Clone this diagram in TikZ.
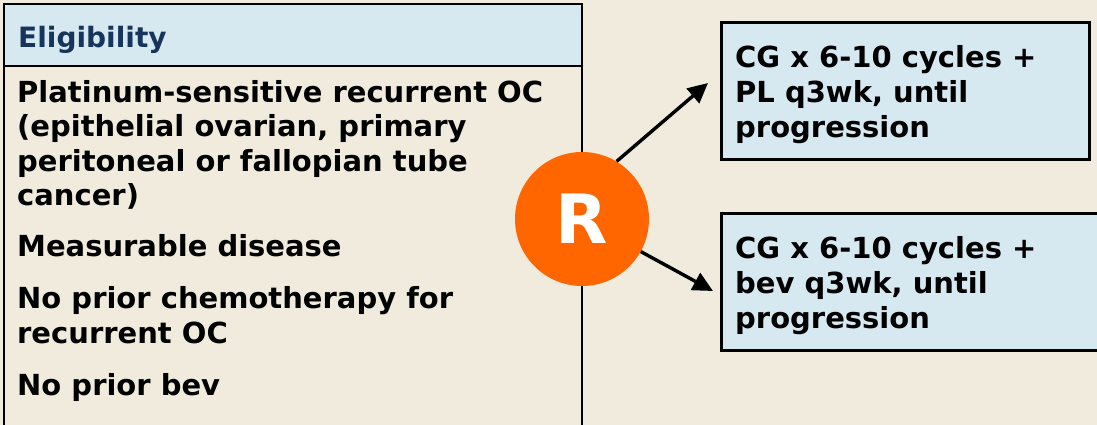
\documentclass[tikz,border=0pt]{standalone}
\usepackage{fontspec}
\setmainfont{DejaVu Sans}
\usetikzlibrary{arrows.meta}
\definecolor{cream}{RGB}{240,235,220}
\definecolor{paleblue}{RGB}{214,232,240}
\definecolor{navy}{RGB}{22,52,92}
\definecolor{rorange}{RGB}{255,102,0}
\tikzset{
  armbox/.style={draw=black, line width=3.2pt, fill=paleblue, anchor=west,
    minimum height=137pt, inner sep=0pt},
  armtext/.style={anchor=west, inner sep=0pt, align=left,
    font=\fontsize{29}{35}\selectfont\bfseries},
  arm/.style={line width=3.4pt, -{Triangle[length=20pt,width=19pt]}}
}
\begin{document}
\begin{tikzpicture}[x=1pt, y=-1pt, line join=miter]
  \useasboundingbox (0,0) rectangle (1097,425);
  \begin{scope}
    \clip (0,0) rectangle (1097,425);
    \fill[cream] (0,0) rectangle (1097,425);
    % eligibility panel
    \fill[paleblue] (4,4) rectangle (582,66);
    \draw[line width=2.6pt] (4,440) -- (4,4) -- (582,4) -- (582,440);
    \draw[line width=2.6pt] (4,66) -- (582,66);
    \node[anchor=west, text=navy, font=\fontsize{28}{30}\selectfont\bfseries,
      inner sep=0pt] (elig) at (18,40) {Eligibility};
    \node[anchor=north west, inner sep=0pt, align=left,
      font=\fontsize{29}{34.5}\selectfont\bfseries] (crit) at (17,80)
      {Platinum-sensitive recurrent OC\\
       (epithelial ovarian, primary\\
       peritoneal or fallopian tube\\
       cancer)\\[16pt]
       Measurable disease\\[18pt]
       No prior chemotherapy for\\
       recurrent OC\\[18pt]
       No prior bev};
    % treatment arms
    \node[armbox, minimum width=368pt] (pl) at (720,91) {};
    \node[armtext] (plText) at ([shift={(15,4)}]pl.west)
      {CG x 6-10 cycles +\\ PL q3wk, until\\ progression};
    \node[armbox, minimum width=390pt] (bev) at (720,282) {};
    \node[armtext] (bevText) at ([shift={(15,4)}]bev.west)
      {CG x 6-10 cycles +\\ bev q3wk, until\\ progression};
    % randomisation
    \node[circle, fill=rorange, minimum size=134pt, inner sep=0pt,
      text=white, font=\fontsize{68}{68}\selectfont\bfseries] (r) at (582,219) {R};
    \coordinate (plTip) at (708,83);
    \coordinate (bevTip) at (713,291);
    \draw[arm] (r.59) -- (plTip);
    \draw[arm] (r.-29) -- (bevTip);
  \end{scope}
\end{tikzpicture}
\end{document}
